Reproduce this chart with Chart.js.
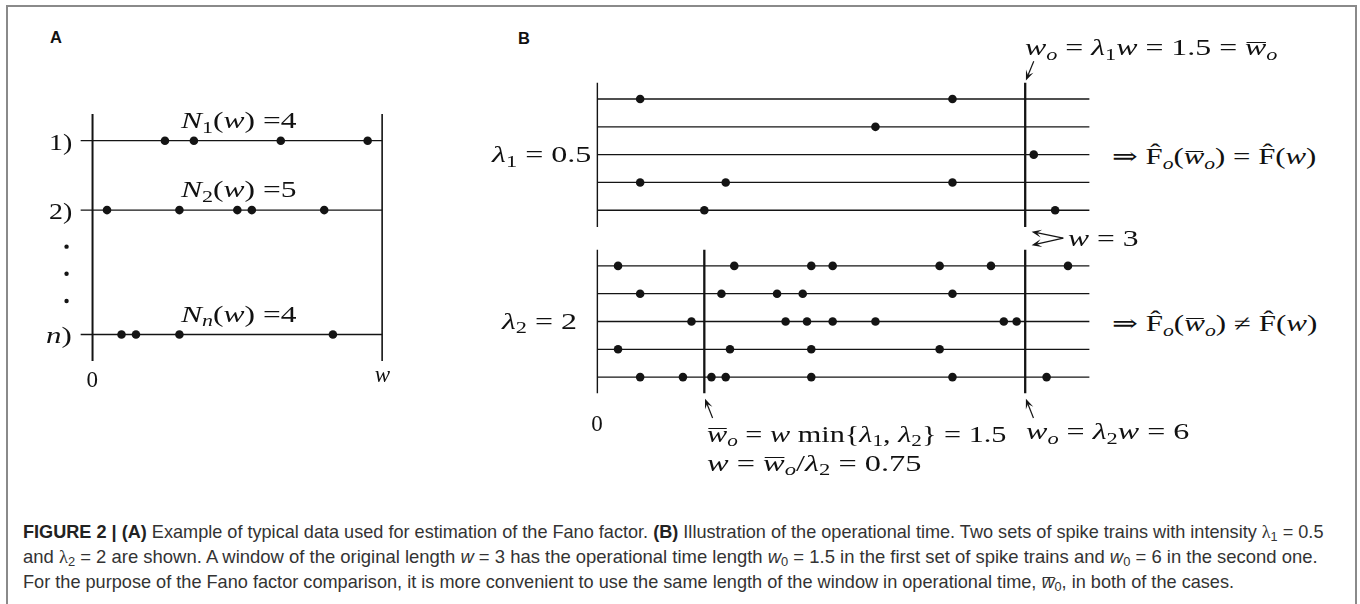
<!DOCTYPE html>
<html><head><meta charset="utf-8">
<script src="https://cdn.jsdelivr.net/npm/chart.js@4/dist/chart.umd.min.js"></script>
<style>
html,body{margin:0;padding:0;background:#fff;width:1360px;height:604px;overflow:hidden;position:relative;}
#frame{position:absolute;left:6px;top:5px;width:1351px;height:640px;border:2px solid #8a8a8a;border-bottom:none;box-sizing:border-box;}
canvas{position:absolute;}
.lbl{position:absolute;white-space:nowrap;font-family:"Liberation Serif","DejaVu Serif",serif;font-size:23px;line-height:1;color:#111;transform-origin:0 50%;}
.lbl i{font-style:italic;}
sub{font-size:0.7em;vertical-align:baseline;position:relative;top:0.28em;}
.ov{position:relative;display:inline-block;}
.ov::before{content:"";position:absolute;left:0.06em;right:0.02em;top:0.24em;border-top:1.2px solid currentColor;}
.panel{position:absolute;white-space:nowrap;font-family:"Liberation Sans",Arial,sans-serif;font-weight:bold;font-size:16.5px;line-height:1;color:#111;transform-origin:0 50%;}
.cap{position:absolute;white-space:nowrap;font-family:"Liberation Sans Narrow","Liberation Sans",sans-serif;font-size:18.5px;line-height:1;color:#333;transform-origin:0 50%;}
.cap b{color:#222;}
.cap .gk{font-family:"Liberation Serif",serif;}
</style></head>
<body>
<div id="frame"></div>
<script>
// ---------------- DATA ----------------
// Panel A: spike times inside a window of length w (w = 1 unit)
const rowLabelsA = ['1)', '2)', 'n)'];
const rowSubsA = ['1', '2', 'n'];
const spikesA_1 = [0.25, 0.35, 0.65, 0.95];
const spikesA_2 = [0.05, 0.30, 0.50, 0.55, 0.80];
const spikesA_n = [0.10, 0.15, 0.30, 0.83];
const tickLabelsA = ['0', 'w'];

// Panel B: spike times (real time) for two intensities
const W_LEN = 3;
const LAMBDA1 = 0.5;
const LAMBDA2 = 2;
const spikesLambda1_r1 = [0.30, 2.49];
const spikesLambda1_r2 = [1.95];
const spikesLambda1_r3 = [3.06];
const spikesLambda1_r4 = [0.30, 0.90, 2.49];
const spikesLambda1_r5 = [0.75, 3.21];
const spikesLambda2_r1 = [0.145, 0.96, 1.50, 1.65, 2.40, 2.76, 3.30];
const spikesLambda2_r2 = [0.30, 0.87, 1.26, 1.44, 2.49];
const spikesLambda2_r3 = [0.66, 1.32, 1.47, 1.65, 1.95, 2.85, 2.94];
const spikesLambda2_r4 = [0.145, 0.93, 1.50, 2.40];
const spikesLambda2_r5 = [0.30, 0.60, 0.80, 0.90, 1.50, 2.49, 3.15];
const tickLabelsB = ['0'];

// ---------------- LAYOUT ----------------
const INK = '#141414';
const LA = {x0: 89.3, ux: 296.7, y0: 137.7, uy: 71.6, r0: 1, xmin: -0.15, xmax: 1.06, ymin: 0.4, ymax: 4.3};
const LB = {x0: 593.3, ux: 145, y0: 95.7, uy: 28.46, r0: 1, xmin: -0.1, xmax: 3.5, ymin: -0.5, ymax: 12.7};
const rowPosA = [1, 2, 3.793];
const ellipsisPosA = [2.527, 2.918, 3.31];
const rowsTopB = [1, 2, 3, 4, 5];
const rowsBotB = [7, 8, 9, 10, 11];

// ---------------- helpers ----------------
const arrowPlugin = {
  id: 'arrows',
  afterDatasetsDraw(chart, args, opts) {
    const list = (opts && opts.list) || [];
    const ctx = chart.ctx, sx = chart.scales.x, sy = chart.scales.y;
    ctx.save();
    ctx.strokeStyle = INK; ctx.fillStyle = INK; ctx.lineWidth = 1.2;
    list.forEach(a => {
      const x1 = sx.getPixelForValue(a.from[0]), y1 = sy.getPixelForValue(a.from[1]);
      const x2 = sx.getPixelForValue(a.to[0]), y2 = sy.getPixelForValue(a.to[1]);
      const ang = Math.atan2(y2 - y1, x2 - x1);
      const ux = Math.cos(ang), uy = Math.sin(ang), nx = -uy, ny = ux;
      const L = 10, Wd = 4;
      ctx.beginPath(); ctx.moveTo(x1, y1); ctx.lineTo(x2 - ux * 5, y2 - uy * 5); ctx.stroke();
      ctx.beginPath();
      ctx.moveTo(x2, y2);
      ctx.lineTo(x2 - L * ux + Wd * nx, y2 - L * uy + Wd * ny);
      ctx.lineTo(x2 - 0.55 * L * ux, y2 - 0.55 * L * uy);
      ctx.lineTo(x2 - L * ux - Wd * nx, y2 - L * uy - Wd * ny);
      ctx.closePath(); ctx.fill();
    });
    ctx.restore();
  }
};

function seg(p0, p1, w) {
  return {data: [p0, p1], showLine: true, borderColor: INK, borderWidth: w, pointRadius: 0, clip: false, borderCapStyle: 'butt'};
}
function dots(pts, r) {
  return {data: pts, showLine: false, pointRadius: r, pointHoverRadius: r,
          backgroundColor: INK, borderWidth: 0, pointBorderWidth: 0, clip: false};
}

function makeChart(L, datasets, arrows) {
  const cv = document.createElement('canvas');
  const left = Math.round(L.x0 + L.xmin * L.ux);
  const top = Math.round(L.y0 + (L.ymin - L.r0) * L.uy);
  const xmin = (left - L.x0) / L.ux, ymin = (top - L.y0) / L.uy + L.r0;
  const w = Math.round((L.xmax - xmin) * L.ux), h = Math.round((L.ymax - ymin) * L.uy);
  cv.width = w; cv.height = h;
  cv.style.left = left + 'px'; cv.style.top = top + 'px';
  cv.style.width = w + 'px'; cv.style.height = h + 'px';
  document.body.appendChild(cv);
  const chart = new Chart(cv, {
    type: 'scatter',
    data: {datasets},
    options: {
      responsive: false, animation: false, events: [], devicePixelRatio: 1,
      layout: {padding: 0},
      scales: {
        x: {type: 'linear', min: xmin, max: xmin + w / L.ux, display: false},
        y: {type: 'linear', min: ymin, max: ymin + h / L.uy, reverse: true, display: false}
      },
      plugins: {legend: {display: false}, tooltip: {enabled: false}, arrows: {list: arrows}}
    },
    plugins: [arrowPlugin]
  });
  chart._left = left; chart._top = top;
  return chart;
}

function place(html, cls, ax, anchor, cy, tw) {
  const el = document.createElement('div');
  el.className = cls; el.innerHTML = html;
  document.body.appendChild(el);
  const W = el.offsetWidth, H = el.offsetHeight;
  const s = tw ? tw / W : 1, T = W * s;
  const left = anchor === 'r' ? ax - T : anchor === 'c' ? ax - T / 2 : ax;
  el.style.left = left + 'px'; el.style.top = (cy - H / 2) + 'px';
  el.style.transform = 'scaleX(' + s + ')';
  return el;
}
function lab(chart, html, x, y, anchor, tw, dy) {
  const px = chart._left + chart.scales.x.getPixelForValue(x);
  const py = chart._top + chart.scales.y.getPixelForValue(y) + (dy || 0);
  return place(html, 'lbl', px, anchor, py, tw);
}

// ---------------- Panel A ----------------
const spikesA = [spikesA_1, spikesA_2, spikesA_n];
const dsA = [];
rowPosA.forEach(r => dsA.push(seg({x: -0.041, y: r}, {x: 1, y: r}, 1.3)));
dsA.push(seg({x: 0, y: 0.615}, {x: 0, y: 4.174}, 2));
dsA.push(seg({x: 1, y: 0.615}, {x: 1, y: 4.174}, 1.6));
spikesA.forEach((s, i) => dsA.push(dots(s.map(x => ({x, y: rowPosA[i]})), 4.3)));
dsA.push(dots(ellipsisPosA.map(y => ({x: -0.0897, y})), 2.2));
const chartA = makeChart(LA, dsA, []);

// ---------------- Panel B ----------------
const spikesB1 = [spikesLambda1_r1, spikesLambda1_r2, spikesLambda1_r3, spikesLambda1_r4, spikesLambda1_r5];
const spikesB2 = [spikesLambda2_r1, spikesLambda2_r2, spikesLambda2_r3, spikesLambda2_r4, spikesLambda2_r5];
const wBarO = Math.min(LAMBDA1, LAMBDA2) * W_LEN;      // 1.5
const wShort = wBarO / LAMBDA2;                          // 0.75
const dsB = [];
rowsTopB.concat(rowsBotB).forEach(r => dsB.push(seg({x: 0, y: r}, {x: 3.45, y: r}, 1.3)));
dsB.push(seg({x: 0, y: 0.413}, {x: 0, y: 5.6}, 1.4));
dsB.push(seg({x: 0, y: 6.42}, {x: 0, y: 11.58}, 1.4));
dsB.push(seg({x: W_LEN, y: 0.413}, {x: W_LEN, y: 5.6}, 2.3));
dsB.push(seg({x: W_LEN, y: 6.42}, {x: W_LEN, y: 11.58}, 2.3));
dsB.push(seg({x: wShort, y: 6.42}, {x: wShort, y: 11.58}, 2.3));
spikesB1.forEach((s, i) => dsB.push(dots(s.map(x => ({x, y: rowsTopB[i]})), 4.3)));
spikesB2.forEach((s, i) => dsB.push(dots(s.map(x => ({x, y: rowsBotB[i]})), 4.3)));
const arrowsB = [
  {from: [3.06, -0.36], to: [3.005, 0.33]},
  {from: [3.267, 6.0], to: [3.045, 5.77]},
  {from: [3.267, 6.0], to: [3.045, 6.26]},
  {from: [wShort + 0.058, 12.47], to: [wShort + 0.005, 11.78]},
  {from: [W_LEN + 0.058, 12.47], to: [W_LEN + 0.005, 11.78]}
];
const chartB = makeChart(LB, dsB, arrowsB);

// ---------------- Text ----------------
const I = s => '<i>' + s + '</i>';
const ov = s => '<span class="ov">' + s + '</span>';
const wbar = ov(I('w')) + '<sub>' + I('o') + '</sub>';
const Fhat = 'F&#770;';

// Panel letters
place('A', 'panel', 50, 'l', 37.5);
place('B', 'panel', 518, 'l', 38);

// Panel A labels
rowLabelsA.forEach((t, i) => {
  const txt = t === 'n)' ? I('n') + ')' : t;
  lab(chartA, txt, -0.071, rowPosA[i], 'r', t === 'n)' ? 25.5 : 23, 1.5);
});
spikesA.forEach((s, i) => {
  const sub = rowSubsA[i] === 'n' ? I('n') : rowSubsA[i];
  lab(chartA, I('N') + '<sub>' + sub + '</sub>(' + I('w') + ') =' + s.length, 0.503, rowPosA[i] - 0.29, 'c', 115);
});
lab(chartA, tickLabelsA[0], 0, 4.44, 'c');
lab(chartA, I(tickLabelsA[1]), 1, 4.37, 'c');

// Panel B labels
lab(chartB, I('λ') + '<sub>1</sub> = ' + LAMBDA1, -0.043, 3, 'r', 99);
lab(chartB, I('λ') + '<sub>2</sub> = ' + LAMBDA2, -0.14, 9, 'r', 75);
lab(chartB, I('w') + '<sub>' + I('o') + '</sub> = ' + I('λ') + '<sub>1</sub>' + I('w') + ' = ' + (LAMBDA1 * W_LEN) + ' = ' + wbar, 3.0, -0.85, 'l', 252);
lab(chartB, '⇒ ' + Fhat + '<sub>' + I('o') + '</sub>(' + wbar + ') = ' + Fhat + '(' + I('w') + ')', 3.612, 3.08, 'l', 205);
lab(chartB, I('w') + ' = ' + W_LEN, 3.30, 6.0, 'l', 70);
lab(chartB, '⇒ ' + Fhat + '<sub>' + I('o') + '</sub>(' + wbar + ') ≠ ' + Fhat + '(' + I('w') + ')', 3.612, 9.09, 'l', 205);
lab(chartB, tickLabelsB[0], 0, 12.68, 'c');
lab(chartB, wbar + ' = ' + I('w') + ' min{' + I('λ') + '<sub>1</sub>, ' + I('λ') + '<sub>2</sub>} = ' + wBarO, 0.77, 13.06, 'l', 300);
lab(chartB, I('w') + ' = ' + wbar + '/' + I('λ') + '<sub>2</sub> = ' + wShort, 0.77, 14.1, 'l', 214);
lab(chartB, I('w') + '<sub>' + I('o') + '</sub> = ' + I('λ') + '<sub>2</sub>' + I('w') + ' = ' + (LAMBDA2 * W_LEN), 3.005, 12.96, 'l', 163);

// Caption
const capLines = [
  '<b>FIGURE 2 | (A)</b> Example of typical data used for estimation of the Fano factor. <b>(B)</b> Illustration of the operational time. Two sets of spike trains with intensity <span class="gk">λ</span><sub>1</sub> = 0.5',
  'and <span class="gk">λ</span><sub>2</sub> = 2 are shown. A window of the original length <i>w</i> = 3 has the operational time length <i>w</i><sub>0</sub> = 1.5 in the first set of spike trains and <i>w</i><sub>0</sub> = 6 in the second one.',
  'For the purpose of the Fano factor comparison, it is more convenient to use the same length of the window in operational time, <span class="ov"><i>w</i></span><sub>0</sub>, in both of the cases.'
];
const capY = [532, 557, 582];
const capW = [1300, 1295, 1211];
capLines.forEach((h, i) => place(h, 'cap', 23, 'l', capY[i], capW[i]));
</script>
</body></html>
